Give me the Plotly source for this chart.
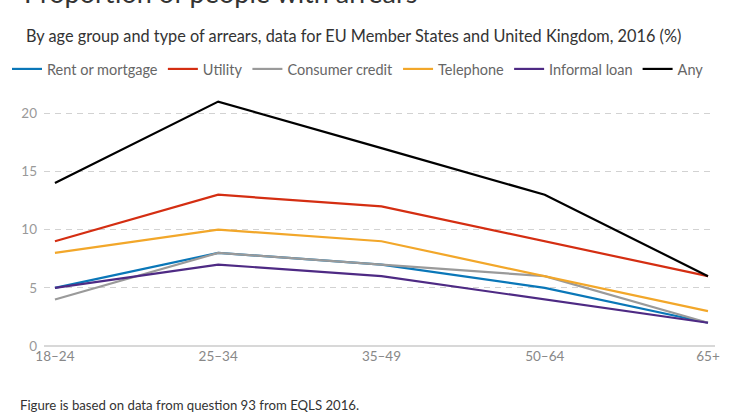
import plotly.graph_objects as go

age_groups = ["18–24", "25–34", "35–49", "50–64", "65+"]
series_names = ["Rent or mortgage", "Utility", "Consumer credit", "Telephone", "Informal loan", "Any"]
rent = [5, 8, 7, 5, 2]
utility = [9, 13, 12, 9, 6]
consumer_credit = [4, 8, 7, 6, 2]
telephone = [8, 10, 9, 6, 3]
informal_loan = [5, 7, 6, 4, 2]
any_arrears = [14, 21, 17, 13, 6]
colors = ["#0a77b8", "#d42e12", "#9a9a9a", "#f2a72a", "#4e2a84", "#000000"]
y_ticks = [0, 5, 10, 15, 20]

values = [rent, utility, consumer_credit, telephone, informal_loan, any_arrears]

FONT = "Source Sans Pro, Lato, sans-serif"

fig = go.Figure()
for name, vals, col in zip(series_names, values, colors):
    fig.add_trace(go.Scatter(
        x=list(range(len(age_groups))), y=vals, name=name, mode="lines",
        line=dict(color=col, width=2.2),
    ))

fig.update_layout(
    width=746, height=419,
    margin=dict(l=44, r=31, t=90, b=73, autoexpand=False),
    paper_bgcolor="white", plot_bgcolor="white",
    font=dict(family=FONT, color="#555"),
    showlegend=True,
    legend=dict(
        orientation="h", xref="paper", yref="paper",
        x=-37 / 671, y=(346 - 69) / 256, xanchor="left", yanchor="middle",
        font=dict(size=14.5, color="#666"), itemwidth=30,
        tracegroupgap=0, traceorder="normal",
    ),
    title=dict(
        text="Proportion of people with arrears",
        font=dict(size=27, color="#333", family=FONT),
        xref="container", yref="container",
        x=24 / 746, xanchor="left", y=1 - 3 / 419, yanchor="bottom",
    ),
    xaxis=dict(
        tickmode="array", tickvals=list(range(len(age_groups))), ticktext=age_groups,
        range=[-0.067, 4.043], showgrid=False, zeroline=False,
        showline=False, ticks="", tickfont=dict(size=13.5, color="#888"),
        fixedrange=True,
    ),
    yaxis=dict(
        range=[0, 22], tickvals=y_ticks, showgrid=True,
        gridcolor="#d2d2d2", griddash="6px,5px", gridwidth=1,
        zeroline=True, zerolinecolor="#d8d8d8", zerolinewidth=2,
        ticks="", tickfont=dict(size=13.5, color="#999"),
        ticklabelstandoff=6, fixedrange=True,
    ),
    annotations=[
        dict(
            text="By age group and type of arrears, data for EU Member States and United Kingdom, 2016 (%)",
            xref="paper", yref="paper", x=-20 / 671, y=(346 - 35) / 256,
            xanchor="left", yanchor="middle", showarrow=False,
            font=dict(size=16.3, color="#333", family=FONT),
        ),
        dict(
            text="Figure is based on data from question 93 from EQLS 2016.",
            xref="paper", yref="paper", x=-26 / 671, y=(346 - 405) / 256,
            xanchor="left", yanchor="middle", showarrow=False,
            font=dict(size=13.2, color="#333", family=FONT),
        ),
    ],
)

fig.write_html("out.html", config={"displayModeBar": False},
               post_script="document.body.style.margin='0';")
